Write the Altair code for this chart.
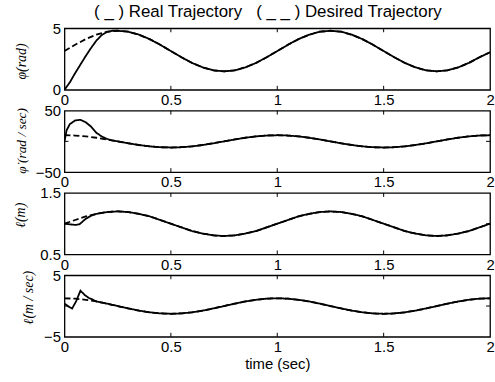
import altair as alt
import pandas as pd

# time grid for the desired trajectories
T = [0.00, 0.05, 0.10, 0.15, 0.20, 0.25, 0.30, 0.35, 0.40, 0.45, 0.50,
     0.55, 0.60, 0.65, 0.70, 0.75, 0.80, 0.85, 0.90, 0.95, 1.00,
     1.05, 1.10, 1.15, 1.20, 1.25, 1.30, 1.35, 1.40, 1.45, 1.50,
     1.55, 1.60, 1.65, 1.70, 1.75, 1.80, 1.85, 1.90, 1.95, 2.00]

phi_des = [3.15, 3.66, 4.12, 4.48, 4.72, 4.80, 4.72, 4.48, 4.12, 3.66, 3.15,
           2.64, 2.18, 1.82, 1.58, 1.50, 1.58, 1.82, 2.18, 2.64, 3.15,
           3.66, 4.12, 4.48, 4.72, 4.80, 4.72, 4.48, 4.12, 3.66, 3.15,
           2.64, 2.18, 1.82, 1.58, 1.50, 1.58, 1.82, 2.18, 2.64, 3.05]
phid_des = [10.0, 9.5, 8.1, 5.9, 3.1, 0.0, -3.1, -5.9, -8.1, -9.5, -10.0,
            -9.5, -8.1, -5.9, -3.1, 0.0, 3.1, 5.9, 8.1, 9.5, 10.0,
            9.5, 8.1, 5.9, 3.1, 0.0, -3.1, -5.9, -8.1, -9.5, -10.0,
            -9.5, -8.1, -5.9, -3.1, 0.0, 3.1, 5.9, 8.1, 9.5, 10.0]
l_des = [1.00, 1.06, 1.12, 1.16, 1.19, 1.20, 1.19, 1.16, 1.12, 1.06, 1.00,
         0.94, 0.88, 0.84, 0.81, 0.80, 0.81, 0.84, 0.88, 0.94, 1.00,
         1.06, 1.12, 1.16, 1.19, 1.20, 1.19, 1.16, 1.12, 1.06, 1.00,
         0.94, 0.88, 0.84, 0.81, 0.80, 0.81, 0.84, 0.88, 0.94, 1.00]
ld_des = [1.26, 1.20, 1.02, 0.74, 0.39, 0.00, -0.39, -0.74, -1.02, -1.20, -1.26,
          -1.20, -1.02, -0.74, -0.39, 0.00, 0.39, 0.74, 1.02, 1.20, 1.26,
          1.20, 1.02, 0.74, 0.39, 0.00, -0.39, -0.74, -1.02, -1.20, -1.26,
          -1.20, -1.02, -0.74, -0.39, 0.00, 0.39, 0.74, 1.02, 1.20, 1.26]

# real trajectories during the initial transient (afterwards they follow the desired ones)
phi_real_t = [0.0, 0.025, 0.05, 0.075, 0.10, 0.125, 0.15, 0.175, 0.20, 0.225]
phi_real = [0.0, 0.60, 1.35, 2.05, 2.75, 3.40, 4.00, 4.45, 4.70, 4.80]
phid_real_t = [0.0, 0.01, 0.025, 0.05, 0.075, 0.10, 0.125, 0.15, 0.175, 0.20, 0.225]
phid_real = [0.0, 18.0, 28.0, 34.0, 35.0, 31.0, 24.0, 14.0, 8.0, 4.0, 1.5]
l_real_t = [0.0, 0.025, 0.05, 0.07, 0.10, 0.125]
l_real = [1.00, 0.99, 0.98, 0.99, 1.08, 1.13]
ld_real_t = [0.0, 0.02, 0.036, 0.055, 0.075, 0.095, 0.115, 0.13]
ld_real = [0.4, -0.1, -0.4, 0.8, 2.5, 1.8, 1.3, 1.1]

W = 429
H = 62
FONT = "Liberation Sans"
NB = "\u00a0"


def panel(des, rt, rv, ymin, ymax, yticks, ytitle, inner_y, title_x, title_y,
          title_size, xtitle=None):
    last = max(rt)
    rows = [{"t": t, "v": v, "s": "Desired"} for t, v in zip(T, des)]
    rows += [{"t": t, "v": v, "s": "Real"} for t, v in zip(rt, rv)]
    rows += [{"t": t, "v": v, "s": "Real"} for t, v in zip(T, des) if t > last]
    df = pd.DataFrame(rows)

    xaxis = alt.Axis(values=[0, 0.5, 1, 1.5, 2], format="~g", ticks=False, domain=False,
                     grid=False, labelPadding=3, labelFontSize=15, labelFont=FONT,
                     labelColor="black", labelFlush=False, title=xtitle, titleFont=FONT,
                     titleFontSize=15, titleFontWeight="normal", titlePadding=2,
                     titleColor="black")
    yaxis = alt.Axis(values=yticks, format="~g", ticks=False, domain=False, grid=False,
                     labelPadding=4, labelFontSize=15, labelFont=FONT, labelColor="black",
                     labelFlush=False,
                     title=ytitle, titleFont="Liberation Serif", titleFontStyle="italic",
                     titleFontWeight="normal", titleFontSize=title_size, titleColor="black",
                     titleX=title_x, titleY=title_y, titleBaseline="middle", titleAngle=270)

    xs = alt.Scale(domain=[0, 2], nice=False, zero=False)
    ys = alt.Scale(domain=[ymin, ymax], nice=False, zero=False)

    lines = alt.Chart(df).mark_line(color="black", strokeWidth=1.8, clip=True).encode(
        x=alt.X("t:Q", scale=xs, axis=xaxis),
        y=alt.Y("v:Q", scale=ys, axis=yaxis),
        strokeDash=alt.StrokeDash("s:N", scale=alt.Scale(domain=["Real", "Desired"],
                                                         range=[[1, 0], [6, 3]]), legend=None),
        order="t:Q",
    )

    xt = pd.DataFrame({"t": [0.5, 1.0, 1.5]})
    top_ticks = alt.Chart(xt).mark_rule(color="black", strokeWidth=1).encode(
        x=alt.X("t:Q", scale=xs), y=alt.value(0), y2=alt.value(4))
    bot_ticks = alt.Chart(xt).mark_rule(color="black", strokeWidth=1).encode(
        x=alt.X("t:Q", scale=xs), y=alt.value(H - 4), y2=alt.value(H))
    layers = [lines, top_ticks, bot_ticks]
    if inner_y:
        yt = pd.DataFrame({"v": inner_y})
        layers.append(alt.Chart(yt).mark_rule(color="black", strokeWidth=1).encode(
            y=alt.Y("v:Q", scale=ys), x=alt.value(0), x2=alt.value(4)))
        layers.append(alt.Chart(yt).mark_rule(color="black", strokeWidth=1).encode(
            y=alt.Y("v:Q", scale=ys), x=alt.value(W - 4), x2=alt.value(W)))
    return alt.layer(*layers).properties(width=W, height=H)


p1 = panel(phi_des, phi_real_t, phi_real, 0, 5, [0, 5], "φ(rad)", None, -43, 33, 14)
p2 = panel(phid_des, phid_real_t, phid_real, -50, 50, [-50, 0, 50], "φ̇ (rad / sec)", [0],
           -43, 30, 13.5)
p3 = panel(l_des, l_real_t, l_real, 0.5, 1.5, [0.5, 1, 1.5], "ℓ(m)", [1], -44, 22, 14)
p4 = panel(ld_des, ld_real_t, ld_real, -5, 5, [-5, 0, 5], "ℓ̇(m / sec)", [0], -36, 22, 14,
           xtitle="time (sec)")

title_text = ("(" + NB + "_" + NB + ")" + NB + "Real Trajectory" + NB * 3 +
              "(" + NB + "_" + NB + "_" + NB + ")" + NB + "Desired Trajectory")

chart = alt.vconcat(p1, p2, p3, p4, spacing=21, bounds="flush").properties(
    title=alt.TitleParams(title_text,
                          font=FONT, fontSize=17, fontWeight="normal", color="black",
                          offset=0, anchor="middle", dx=14),
    padding={"left": 13, "top": 1, "right": 0, "bottom": 0},
    background="white",
).configure_view(stroke="black", strokeWidth=1.3)

chart.save("out.html", embed_options={"renderer": "svg", "actions": False})
